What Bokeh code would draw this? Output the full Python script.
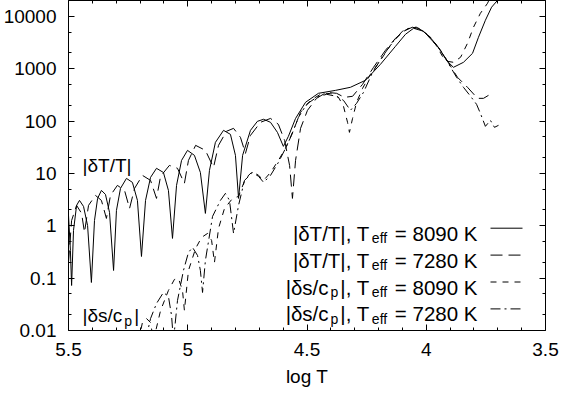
import math
from bokeh.plotting import figure
from bokeh.models import (Range1d, LinearAxis, LogAxis, FixedTicker,
                          CustomJSTickFormatter, Label)
from bokeh.embed import file_html
from bokeh.resources import INLINE

# ---------------- data ----------------
# |dT/T|, Teff = 8090 K  (solid)
DT8090_LOGT = [5.500, 5.492, 5.487, 5.479, 5.466, 5.454, 5.437, 5.420, 5.404, 5.391,
               5.378, 5.362, 5.345, 5.328, 5.311, 5.299, 5.282, 5.257, 5.232, 5.211,
               5.194, 5.177, 5.156, 5.131, 5.102, 5.081, 5.064, 5.047, 5.026, 5.001,
               4.972, 4.947, 4.926, 4.909, 4.884, 4.850, 4.821, 4.800, 4.787, 4.770,
               4.737, 4.708, 4.682, 4.653, 4.624, 4.599, 4.578, 4.548, 4.506, 4.452,
               4.380, 4.318, 4.255, 4.192, 4.129, 4.087, 4.053, 4.011, 3.953, 3.907,
               3.886, 3.844, 3.806, 3.781, 3.752, 3.726, 3.701, 3.689]
DT8090_VAL = [1.58, 0.338, 0.0724, 0.814, 2.45, 3.05, 2.34, 1.01, 0.0826, 1.26,
              3.33, 4.73, 3.97, 1.80, 0.140, 1.96, 5.17, 8.02, 6.73, 3.05,
              0.259, 3.05, 8.39, 12.5, 10.4, 4.73, 0.573, 5.90, 17.7, 27.5,
              22.1, 10.4, 1.72, 11.4, 39.1, 66.3, 55.6, 22.1, 3.33, 22.1,
              66.3, 98.6, 108, 94.4, 60.7, 32.8, 50.9, 112, 228, 338,
              385, 440, 598, 1210, 2670, 4530, 5900, 5170, 2670, 1320,
              1060, 1320, 1960, 3970, 8390, 14900, 20200, 28800]

# |dT/T|, Teff = 7280 K  (long dashes)
DT7280_LOGT = [5.500, 5.487, 5.466, 5.445, 5.433, 5.416, 5.387, 5.362, 5.341, 5.324,
               5.295, 5.265, 5.244, 5.223, 5.190, 5.156, 5.131, 5.114, 5.077, 5.043,
               5.014, 4.997, 4.967, 4.926, 4.892, 4.871, 4.838, 4.808, 4.779, 4.758,
               4.737, 4.695, 4.653, 4.620, 4.594, 4.573, 4.561, 4.548, 4.527, 4.498,
               4.460, 4.418, 4.376, 4.343, 4.309, 4.267, 4.221, 4.171, 4.129, 4.087,
               4.058, 4.024, 3.982, 3.940, 3.898, 3.869, 3.827, 3.785, 3.760, 3.739]
DT7280_VAL = [0.199, 1.26, 2.45, 1.72, 0.746, 2.45, 3.80, 3.05, 1.38, 3.80,
              5.90, 4.73, 2.14, 5.17, 9.16, 7.35, 3.33, 8.77, 14.2, 12.5,
              6.44, 17.7, 34.3, 27.5, 13.0, 34.3, 63.5, 72.4, 48.7, 24.1,
              53.2, 94.4, 112, 86.4, 42.7, 14.2, 3.33, 17.7, 72.4, 160,
              271, 353, 338, 283, 296, 502, 1060, 2240, 3800, 5400,
              6170, 5650, 3970, 2240, 1110, 683, 440, 271, 271, 309]

# |ds/cp|, Teff = 8090 K  (short dashes)
DS8090_LOGT = [5.206, 5.190, 5.173, 5.156, 5.144, 5.114, 5.081, 5.056, 5.039, 5.022,
               5.014, 4.997, 4.967, 4.942, 4.917, 4.900, 4.888, 4.871, 4.846, 4.812,
               4.787, 4.758, 4.728, 4.703, 4.682, 4.653, 4.620, 4.590, 4.557, 4.527,
               4.485, 4.443, 4.401, 4.368, 4.347, 4.330, 4.322, 4.309, 4.292, 4.267,
               4.234, 4.192, 4.150, 4.108, 4.066, 4.041, 4.003, 3.961, 3.932, 3.911,
               3.886, 3.856, 3.827, 3.802, 3.773, 3.743, 3.722]
DS8090_VAL = [0.0064, 0.0142, 0.0169, 0.0142, 0.0064, 0.0241, 0.0581, 0.0943, 0.0986, 0.0581,
              0.0241, 0.140, 0.369, 0.599, 0.714, 0.525, 0.199, 0.889, 2.14, 3.33,
              3.63, 8.02, 10.9, 9.16, 7.35, 10.4, 17.7, 30.1, 66.3, 147,
              248, 324, 338, 283, 191, 94.4, 60.7, 112, 228, 421,
              780, 1440, 2790, 4730, 6170, 6170, 4730, 2920, 1720, 1380,
              1320, 1650, 3050, 6170, 11400, 17700, 28800]

# |ds/cp|, Teff = 7280 K  (dash-dot)
DS7280_LOGT = [5.177, 5.156, 5.131, 5.102, 5.081, 5.068, 5.060, 5.043, 5.018, 4.997,
               4.980, 4.959, 4.947, 4.938, 4.926, 4.896, 4.863, 4.842, 4.825, 4.808,
               4.787, 4.762, 4.728, 4.703, 4.682, 4.653, 4.620, 4.590, 4.565, 4.536,
               4.502, 4.460, 4.418, 4.376, 4.347, 4.318, 4.292, 4.263, 4.225, 4.183,
               4.141, 4.100, 4.062, 4.032, 3.991, 3.949, 3.907, 3.873, 3.844, 3.814,
               3.789, 3.773, 3.752, 3.731, 3.714, 3.697]
DS7280_VAL = [0.0064, 0.0169, 0.0328, 0.0532, 0.0446, 0.0194, 0.0064, 0.0374, 0.140, 0.309,
              0.386, 0.271, 0.140, 0.0532, 0.217, 1.51, 3.05, 4.15, 3.05, 0.714,
              2.45, 7.35, 10.4, 8.77, 6.73, 9.16, 16.2, 30.1, 53.2, 117,
              208, 283, 324, 296, 248, 160, 218, 353, 851, 1720,
              3190, 5170, 6170, 5900, 4340, 2560, 1260, 683, 440, 296,
              208, 140, 79.1, 103, 75.7, 82.7]

X_TICKS = [5.5, 5.0, 4.5, 4.0, 3.5]
X_TICK_LABELS = ["5.5", "5", "4.5", "4", "3.5"]
Y_TICKS = [0.01, 0.1, 1, 10, 100, 1000, 10000]
Y_TICK_LABELS = ["0.01", "0.1", "1", "10", "100", "1000", "10000"]

SERIES_TEFF = ["8090", "7280", "8090", "7280"]

# ---------------- layout / style ----------------
FONT = "Liberation Sans"
FS = 19          # tick / axis / in-plot label font size (px)
LEG_FS = 20.5    # legend main font size
SUB_FS = 14      # subscript font size
SUB_SHIFT = 5
SUB_GAP = 2
W_TOT, H_TOT = 563, 393
BL, BR, BT, BB = 68, 18, 0, 63
FW, FH = W_TOT - BL - BR, H_TOT - BT - BB
X0, X1 = 5.5, 3.5
Y0, Y1 = 0.01, 20000.0
DEC = math.log10(Y1 / Y0)

p = figure(width=W_TOT, height=H_TOT, output_backend="svg", toolbar_location=None,
           x_range=Range1d(X0, X1), y_range=Range1d(Y0, Y1), y_axis_type="log",
           min_border_left=BL, min_border_right=BR, min_border_top=BT,
           min_border_bottom=BB, background_fill_color="white",
           border_fill_color="white", outline_line_color=None)
p.xgrid.visible = False
p.ygrid.visible = False

x_minor = [round(3.5 + 0.1 * i, 1) for i in range(21) if i % 5 != 0]
y_minor = [m * 10.0 ** k for k in range(-2, 5) for m in (2, 5)]

x_fmt = CustomJSTickFormatter(args=dict(tvals=X_TICKS, tlabels=X_TICK_LABELS), code="""
for (let i = 0; i < tvals.length; i++) { if (Math.abs(tvals[i] - tick) < 1e-6) return tlabels[i]; }
return "";""")
y_fmt = CustomJSTickFormatter(args=dict(tvals=Y_TICKS, tlabels=Y_TICK_LABELS), code="""
for (let i = 0; i < tvals.length; i++) {
  if (Math.abs(Math.log10(tvals[i]) - Math.log10(tick)) < 1e-6) return tlabels[i]; }
return "";""")
blank = CustomJSTickFormatter(code="return '';")


def style_axis(ax):
    ax.axis_line_color = "black"
    ax.axis_line_width = 1
    ax.major_tick_line_color = "black"
    ax.minor_tick_line_color = "black"
    ax.major_tick_in = 6
    ax.major_tick_out = 0
    ax.minor_tick_in = 3
    ax.minor_tick_out = 0
    ax.major_label_text_font = FONT
    ax.major_label_text_font_size = f"{FS}px"
    ax.major_label_text_color = "black"


xax = p.xaxis[0]
xax.ticker = FixedTicker(ticks=X_TICKS, minor_ticks=x_minor)
xax.formatter = x_fmt
style_axis(xax)
xax.major_label_standoff = 12
xax.axis_label = "log T"
xax.axis_label_text_font = FONT
xax.axis_label_text_font_size = f"{FS}px"
xax.axis_label_text_font_style = "normal"
xax.axis_label_text_color = "black"
xax.axis_label_standoff = 7

yax = p.yaxis[0]
yax.ticker = FixedTicker(ticks=Y_TICKS, minor_ticks=y_minor)
yax.formatter = y_fmt
style_axis(yax)
yax.major_label_standoff = 12

top = LinearAxis(ticker=FixedTicker(ticks=X_TICKS, minor_ticks=x_minor), formatter=blank)
style_axis(top)
top.major_label_standoff = 0
top.major_label_text_font_size = "0px"
p.add_layout(top, "above")

right = LogAxis(ticker=FixedTicker(ticks=Y_TICKS, minor_ticks=y_minor), formatter=blank)
style_axis(right)
right.major_label_standoff = 0
right.major_label_text_font_size = "0px"
p.add_layout(right, "right")

# ---------------- curves ----------------
DASHES = ["solid", "12 6", "6 6", "10 4 2 4"]
SERIES = [(DT8090_LOGT, DT8090_VAL), (DT7280_LOGT, DT7280_VAL),
          (DS8090_LOGT, DS8090_VAL), (DS7280_LOGT, DS7280_VAL)]
for (xs, ys), dash in zip(SERIES, DASHES):
    p.line(xs, ys, line_color="black", line_width=1, line_dash=dash)

# ---------------- text helpers ----------------
ARIAL_W = {' ': 278, '|': 260, ',': 278, '=': 584, '/': 278, 'K': 667, 'T': 611,
           'c': 500, 'e': 556, 'f': 278, 'p': 556, 's': 500, 'δ': 556}
for d in "0123456789":
    ARIAL_W[d] = 556


def tw(s, size):
    return sum(ARIAL_W.get(c, 556) for c in s) * size / 1000.0


def add_label(x, y, text, size, xo, yo, align="left"):
    p.add_layout(Label(x=x, y=y, text=text, x_offset=xo, y_offset=yo,
                       text_font=FONT, text_font_size=f"{size}px", text_color="black",
                       text_align=align, text_baseline="alphabetic"))


# in-plot labels
LBL_X = 5.441
add_label(LBL_X, 14.2, "|δT/T|", FS, 0, 0)
xo = 0
for t, sub in [("|δs/c", False), ("p", True), ("|", False)]:
    if sub:
        xo += SUB_GAP
    add_label(LBL_X, 0.0193, t, SUB_FS if sub else FS, xo, -SUB_SHIFT if sub else 0)
    xo += tw(t, SUB_FS if sub else FS) + (SUB_GAP if sub else 0)

# ---------------- legend (manual, for subscripts) ----------------
ROW_BASE = [97.3, 70.4, 43.5, 16.6]     # px above the frame bottom
TEXT_END = 68                            # px left of the frame's right edge
SAMPLE_L, SAMPLE_R = 55, 23
for i, teff in enumerate(SERIES_TEFF):
    if i < 2:
        pieces = [("|δT/T|, T", False), ("eff", True), (f" = {teff} K", False)]
    else:
        pieces = [("|δs/c", False), ("p", True), ("|, T", False), ("eff", True),
                  (f" = {teff} K", False)]
    cursor = -TEXT_END
    for t, sub in reversed(pieces):
        size = SUB_FS if sub else LEG_FS
        if sub:
            cursor -= SUB_GAP
        add_label(X1, Y0, t.strip(), size, cursor, ROW_BASE[i] - (SUB_SHIFT if sub else 0),
                  align="right")
        cursor -= tw(t, size) + (SUB_GAP if sub else 0)
    yc = Y0 * 10 ** ((ROW_BASE[i] + 5) / FH * DEC)
    xl = X1 + SAMPLE_L * (X0 - X1) / FW
    xr = X1 + SAMPLE_R * (X0 - X1) / FW
    p.line([xl, xr], [yc, yc], line_color="black", line_width=1, line_dash=DASHES[i])

open("out.html", "w").write(file_html(p, INLINE))
